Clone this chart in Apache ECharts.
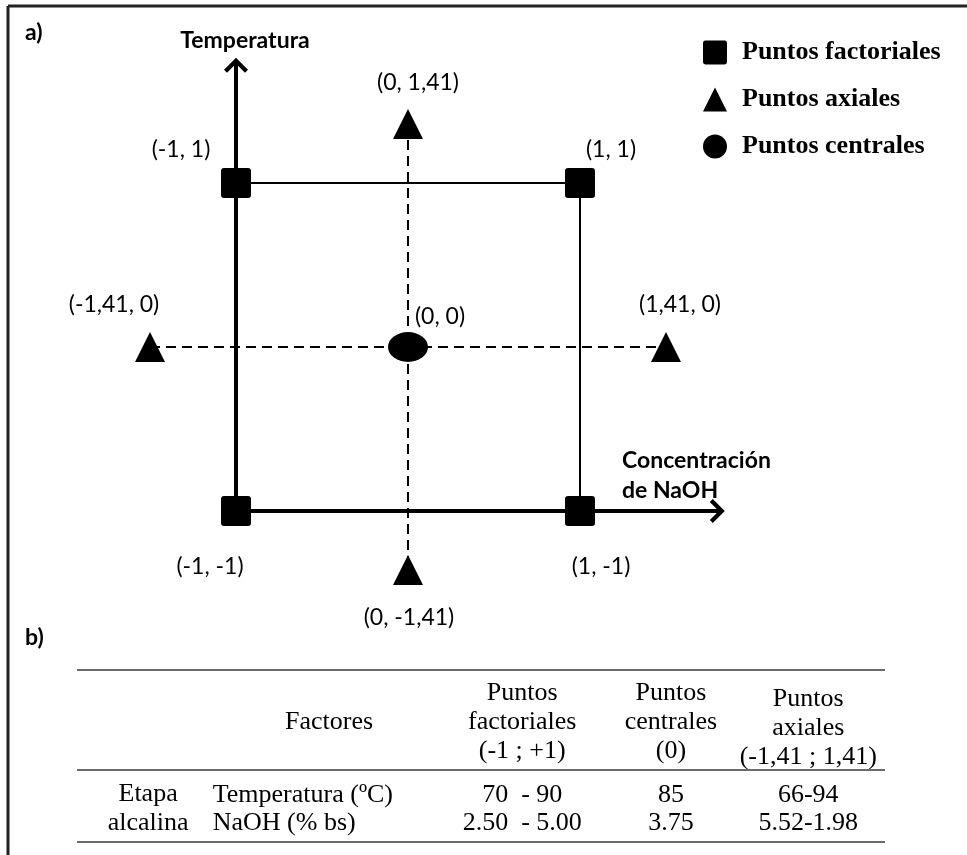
<!DOCTYPE html>
<html>
<head>
<meta charset="utf-8">
<script src="https://cdn.jsdelivr.net/npm/echarts@6/dist/echarts.min.js"></script>
<style>
  html, body { margin: 0; padding: 0; background: #fff; }
  #main { width: 967px; height: 855px; }
</style>
</head>
<body>
<div id="main"></div>
<script>
// a) diseño central compuesto: puntos (x = NaOH, y = Temperatura)
const factorialX = [-1, 1, -1, 1];
const factorialY = [1, 1, -1, -1];
const factorialLabels = ['(-1, 1)', '(1, 1)', '(-1, -1)', '(1, -1)'];

const axialX = [0, -1.5, 1.5, 0];
const axialY = [1.36, 0, 0, -1.36];
const axialLabels = ['(0, 1,41)', '(-1,41, 0)', '(1,41, 0)', '(0, -1,41)'];

const centralX = [0];
const centralY = [0];
const centralLabels = ['(0, 0)'];

const seriesNames = ['Puntos factoriales', 'Puntos axiales', 'Puntos centrales'];

// b) tabla
const tableHeaders = ['Factores', 'Puntos\nfactoriales\n(-1 ; +1)', 'Puntos\ncentrales\n(0)', 'Puntos\naxiales\n(-1,41 ; 1,41)'];
const stageName = 'Etapa\nalcalina';
const factorNames = ['Temperatura (ºC)', 'NaOH (% bs)'];
const factorialRange = ['70  - 90', '2.50  - 5.00'];
const centralValue = ['85', '3.75'];
const axialRange = ['66-94', '5.52-1.98'];

// posiciones de etiquetas (px, relativas al punto)
const factorialLabelOffsets = [[-55, -33], [31, -33], [-26, 56], [21, 56]];
const axialLabelOffsets = [[10, -41], [-36, -42], [14, -42], [1, 48]];
const centralLabelOffsets = [[32, -30]];

// columnas / filas de la tabla (fracción del ancho / alto)
const colX = { stage: 0.088, factor: 0.168, factorHead: 0.312, factorial: 0.551, central: 0.735, axial: 0.905 };
const rowY = { head: 0.302, headAxial: 0.337, rows: [0.727, 0.890], stage: 0.808 };
const ruleY = [0, 0.581, 1];

const squareIcon = 'path://M3,0H27Q30,0 30,3V27Q30,30 27,30H3Q0,30 0,27V3Q0,0 3,0Z';
const arrowIcon = 'path://M12,0L24,12L21,15L12,6L3,15L0,12Z';

const chart = echarts.init(document.getElementById('main'));

function pointData(xs, ys, labels, offsets) {
  return xs.map((x, i) => ({
    name: labels[i],
    value: [x, ys[i]],
    label: { offset: offsets[i] }
  }));
}

const pointLabel = {
  show: true,
  position: 'inside',
  formatter: '{b}',
  color: '#000',
  fontFamily: 'Lato',
  fontSize: 23,
  textBorderWidth: 0
};

// ejes con flecha: cruzan en (-1, -1)
const arrowAxis = {
  type: 'value',
  gridIndex: 0,
  axisLine: {
    show: true,
    onZero: false,
    lineStyle: { color: '#000', width: 4 },
    symbol: ['none', arrowIcon],
    symbolSize: [24, 15],
    symbolOffset: [0, -2]
  },
  axisTick: { show: false },
  axisLabel: { show: false },
  splitLine: { show: false }
};

// misma escala, área más amplia para los puntos
const plotAxis = { type: 'value', gridIndex: 1, show: false };

// celdas de la tabla
const cells = [];
tableHeaders.forEach((h, i) => {
  const x = [colX.factorHead, colX.factorial, colX.central, colX.axial][i];
  cells.push({ name: h, value: [x, i === 3 ? rowY.headAxial : rowY.head] });
});
cells.push({ name: stageName, value: [colX.stage, rowY.stage] });
factorNames.forEach((f, i) => {
  cells.push({ name: f, value: [colX.factor, rowY.rows[i]], label: { align: 'left' } });
  cells.push({ name: factorialRange[i], value: [colX.factorial, rowY.rows[i]] });
  cells.push({ name: centralValue[i], value: [colX.central, rowY.rows[i]] });
  cells.push({ name: axialRange[i], value: [colX.axial, rowY.rows[i]] });
});

const titleStyle = { fontFamily: 'Lato', fontWeight: 'bold', fontSize: 23, color: '#000' };

const option = {
  animation: false,
  backgroundColor: '#fff',
  title: [
    { text: 'a)', left: 25, top: 21, padding: 0, textStyle: titleStyle },
    { text: 'b)', left: 25, top: 626, padding: 0, textStyle: titleStyle },
    { text: 'Concentración\nde NaOH', left: 622, top: 446, padding: 0,
      textStyle: Object.assign({}, titleStyle, { lineHeight: 30 }) }
  ],
  legend: {
    orient: 'vertical',
    left: 703,
    top: 39,
    padding: 0,
    itemWidth: 24,
    itemHeight: 24,
    itemGap: 20,
    selectedMode: false,
    data: [
      { name: seriesNames[0], icon: squareIcon },
      { name: seriesNames[1], icon: 'triangle' },
      { name: seriesNames[2], icon: 'circle' }
    ],
    textStyle: {
      fontFamily: 'Liberation Serif',
      fontWeight: 'bold',
      fontSize: 26,
      lineHeight: 24,
      color: '#000',
      padding: [3, 0, 0, 10]
    }
  },
  grid: [
    // x: 0 -> 408px, 172px/unidad ; y: 0 -> 347px, 164px/unidad
    { left: 236, top: 63.3, width: 483.3, height: 447.7, outerBoundsMode: 'none' },
    { left: 132.8, top: 63.3, width: 586.5, height: 521.5, outerBoundsMode: 'none' },
    { left: 77, top: 670, width: 808, height: 172, outerBoundsMode: 'none' }
  ],
  xAxis: [
    Object.assign({}, arrowAxis, { min: -1, max: 1.81 }),
    Object.assign({}, plotAxis, { min: -1.6, max: 1.81 }),
    { type: 'value', gridIndex: 2, min: 0, max: 1, show: false }
  ],
  yAxis: [
    Object.assign({}, arrowAxis, {
      min: -1, max: 1.73,
      name: 'Temperatura',
      nameLocation: 'end',
      nameGap: 11,
      nameTextStyle: Object.assign({}, titleStyle, { padding: [0, 0, 0, 18] })
    }),
    Object.assign({}, plotAxis, { min: -1.45, max: 1.73 }),
    { type: 'value', gridIndex: 2, min: 0, max: 1, inverse: true, show: false }
  ],
  graphic: [
    { type: 'line', shape: { x1: 8, y1: 6, x2: 967, y2: 6 }, style: { stroke: '#222', lineWidth: 3 } },
    { type: 'line', shape: { x1: 8, y1: 6, x2: 8, y2: 855 }, style: { stroke: '#222', lineWidth: 3 } }
  ],
  series: [
    {
      type: 'line',
      xAxisIndex: 1,
      yAxisIndex: 1,
      silent: true,
      symbol: 'none',
      lineStyle: { color: '#000', width: 2 },
      data: [0, 1, 3].map(i => [factorialX[i], factorialY[i]])
    },
    {
      type: 'line',
      xAxisIndex: 1,
      yAxisIndex: 1,
      silent: true,
      symbol: 'none',
      lineStyle: { color: '#000', width: 2, type: [10, 6] },
      data: [0, 3].map(i => [axialX[i], axialY[i]])
    },
    {
      type: 'line',
      xAxisIndex: 1,
      yAxisIndex: 1,
      silent: true,
      symbol: 'none',
      lineStyle: { color: '#000', width: 2, type: [10, 6] },
      data: [1, 2].map(i => [axialX[i], axialY[i]])
    },
    {
      name: seriesNames[0],
      type: 'scatter',
      xAxisIndex: 1,
      yAxisIndex: 1,
      symbol: squareIcon,
      symbolSize: 30,
      itemStyle: { color: '#000', opacity: 1 },
      label: pointLabel,
      data: pointData(factorialX, factorialY, factorialLabels, factorialLabelOffsets)
    },
    {
      name: seriesNames[1],
      type: 'scatter',
      xAxisIndex: 1,
      yAxisIndex: 1,
      symbol: 'triangle',
      symbolSize: [30, 30],
      itemStyle: { color: '#000', opacity: 1 },
      label: pointLabel,
      data: pointData(axialX, axialY, axialLabels, axialLabelOffsets)
    },
    {
      name: seriesNames[2],
      type: 'scatter',
      xAxisIndex: 1,
      yAxisIndex: 1,
      symbol: 'circle',
      symbolSize: [40, 30],
      itemStyle: { color: '#000', opacity: 1 },
      label: pointLabel,
      data: pointData(centralX, centralY, centralLabels, centralLabelOffsets)
    },
    {
      type: 'scatter',
      xAxisIndex: 2,
      yAxisIndex: 2,
      clip: false,
      silent: true,
      symbolSize: 1,
      itemStyle: { color: 'transparent', opacity: 1 },
      label: {
        show: true,
        position: 'inside',
        formatter: '{b}',
        align: 'center',
        verticalAlign: 'middle',
        color: '#000',
        fontFamily: 'Liberation Serif',
        fontSize: 26,
        lineHeight: 29,
        textBorderWidth: 0
      },
      data: cells,
      markLine: {
        silent: true,
        symbol: 'none',
        label: { show: false },
        lineStyle: { color: '#6b6b6b', width: 2, type: 'solid', opacity: 1 },
        data: ruleY.map(v => ({ yAxis: v }))
      }
    }
  ]
};

chart.setOption(option);
</script>
</body>
</html>
